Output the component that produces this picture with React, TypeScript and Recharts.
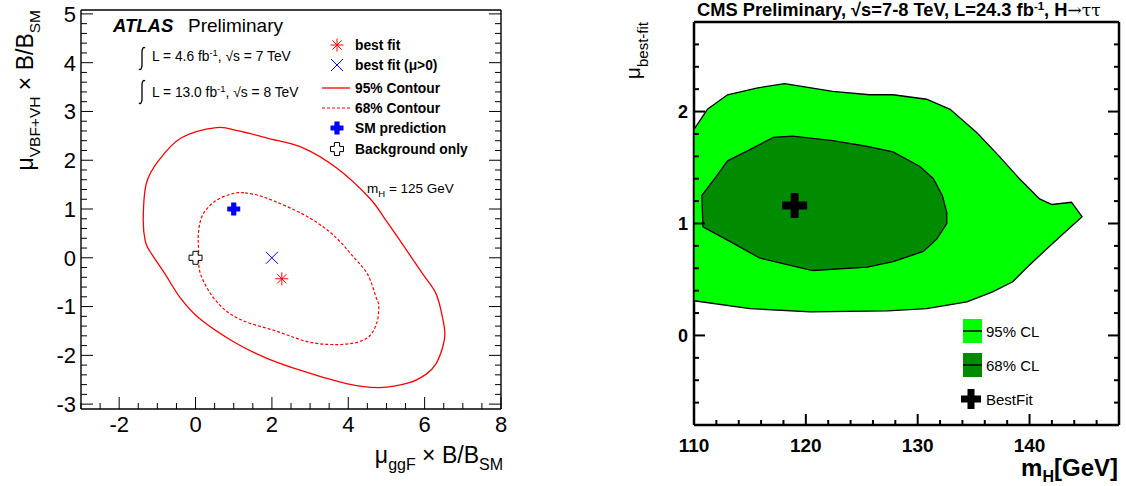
import { Scatter, ScatterChart, XAxis, YAxis } from "recharts";

// ATLAS panel: contour vertices (mu_ggF, mu_VBF+VH)
const atlasContour95: [number, number][] = [
  [0.55, 2.67], [1.13, 2.6], [1.9, 2.45], [2.8, 2.26], [3.68, 1.85], [4.55, 1.23], [5.0, 0.75],
  [5.4, 0.3], [5.95, -0.33], [6.3, -0.74], [6.47, -1.23], [6.53, -1.56], [6.47, -1.84], [6.3, -2.17],
  [6.05, -2.38], [5.6, -2.56], [4.82, -2.66], [3.95, -2.58], [2.8, -2.32], [1.84, -2.05], [0.95, -1.7],
  [0.08, -1.23], [-0.4, -0.82], [-0.8, -0.33], [-1.2, 0.14], [-1.32, 0.35], [-1.37, 0.82], [-1.29, 1.52],
  [-0.97, 1.99], [-0.37, 2.46],
];
const atlasContour68: [number, number][] = [
  [1.3, 1.33], [1.84, 1.23], [2.8, 0.9], [3.4, 0.6], [3.76, 0.35], [4.1, 0.05], [4.5, -0.33],
  [4.74, -0.84], [4.8, -1.0], [4.74, -1.35], [4.5, -1.64], [3.95, -1.77], [3.05, -1.74], [2.1, -1.5],
  [1.13, -1.25], [0.53, -0.88], [0.13, -0.33], [0.08, 0.16], [0.08, 0.55], [0.2, 0.9], [0.53, 1.17],
  [0.95, 1.31],
];
const atlasBestFit: [number, number] = [2.26, -0.43];
const atlasBestFitPositive: [number, number] = [2.0, 0.0];
const atlasSM: [number, number] = [1, 1];
const atlasBkgOnly: [number, number] = [0, 0];
const atlasXDomain: [number, number] = [-3, 8];
const atlasYDomain: [number, number] = [-3.1, 5.08];
const atlasXMajor = [-2, 0, 2, 4, 6, 8];
const atlasYMajor = [-3, -2, -1, 0, 1, 2, 3, 4, 5];

// CMS panel: contour vertices (mH, mu)
const cmsContour95: [number, number][] = [
  [110, 1.84], [111.2, 2.02], [113, 2.15], [115.6, 2.21], [118.1, 2.25], [120.6, 2.21], [122.4, 2.18],
  [125.7, 2.15], [127.8, 2.15], [130.8, 2.11], [132.9, 2.02], [135.3, 1.81], [137.3, 1.6], [139.1, 1.4],
  [140.9, 1.22], [142, 1.17], [143.75, 1.19], [144.7, 1.06], [142.7, 0.88], [141.5, 0.77], [139.7, 0.6],
  [138.5, 0.48], [136.7, 0.39], [134.4, 0.3], [130.8, 0.24], [127.3, 0.22], [120.4, 0.21], [115, 0.24],
  [110, 0.31],
];
const cmsContour68: [number, number][] = [
  [110.7, 1.25], [112, 1.42], [113, 1.56], [115, 1.66], [117.1, 1.77], [118.8, 1.78], [122.4, 1.74],
  [125.4, 1.69], [127.8, 1.64], [130.2, 1.51], [131.4, 1.4], [132.2, 1.25], [132.6, 1.1], [132.6, 1.0],
  [131.7, 0.86], [130.5, 0.75], [127.8, 0.66], [125.5, 0.61], [120.6, 0.58], [115.9, 0.69], [113.2, 0.84],
  [110.8, 0.97],
];
const cmsBestFit: [number, number] = [119, 1.16];
const cmsXDomain: [number, number] = [110, 148];
const cmsYDomain: [number, number] = [-0.8, 2.8];
const cmsXMajor = [110, 120, 130, 140];
const cmsYMajor = [0, 1, 2];

const FONT = '"Liberation Sans", Arial, Helvetica, sans-serif';
const DARK_GREEN = "#008c00";

const toPts = (arr: [number, number][]) => arr.map(([x, y]) => ({ x, y }));
const one = (p: [number, number]) => [{ x: p[0], y: p[1] }];

function withMinors(domain: [number, number], step: number) {
  const out: number[] = [];
  const start = Math.ceil(domain[0] / step - 1e-9);
  for (let i = start; i * step <= domain[1] + 1e-9; i++) out.push(Math.round(i * step * 1000) / 1000);
  return out;
}

function closedPath(pts: { x: number; y: number }[], smooth: boolean) {
  if (!pts || !pts.length) return "";
  if (!smooth) return "M" + pts.map((p) => `${p.x},${p.y}`).join("L") + "Z";
  const n = pts.length;
  let d = `M${pts[0].x},${pts[0].y}`;
  for (let i = 0; i < n; i++) {
    const p0 = pts[(i - 1 + n) % n], p1 = pts[i], p2 = pts[(i + 1) % n], p3 = pts[(i + 2) % n];
    const c1x = p1.x + (p2.x - p0.x) / 6, c1y = p1.y + (p2.y - p0.y) / 6;
    const c2x = p2.x - (p3.x - p1.x) / 6, c2y = p2.y - (p3.y - p1.y) / 6;
    d += `C${c1x},${c1y} ${c2x},${c2y} ${p2.x},${p2.y}`;
  }
  return d + "Z";
}

const polygon = (fill: string, stroke: string, width: number, smooth: boolean, dash?: string) => (p: any) => (
  <path d={closedPath(p.points, smooth)} fill={fill} stroke={stroke} strokeWidth={width} strokeDasharray={dash} />
);

const plusPath = (cx: number, cy: number, a: number, t: number) =>
  `M${cx - t},${cy - a}h${2 * t}v${a - t}h${a - t}v${2 * t}h${-(a - t)}v${a - t}h${-2 * t}v${-(a - t)}h${-(a - t)}v${-2 * t}h${a - t}Z`;

const Asterisk = ({ cx, cy, r = 6.5 }: any) => (
  <g stroke="#ff0000" strokeWidth={1}>
    {[0, 45, 90, 135].map((a) => {
      const dx = r * Math.cos((a * Math.PI) / 180), dy = r * Math.sin((a * Math.PI) / 180);
      return <line key={a} x1={cx - dx} y1={cy - dy} x2={cx + dx} y2={cy + dy} />;
    })}
  </g>
);
const Cross = ({ cx, cy, r = 6 }: any) => (
  <g stroke="#0000ff" strokeWidth={1}>
    <line x1={cx - r} y1={cy - r} x2={cx + r} y2={cy + r} />
    <line x1={cx - r} y1={cy + r} x2={cx + r} y2={cy - r} />
  </g>
);
const FilledPlus = ({ cx, cy }: any) => <path d={plusPath(cx, cy, 6.5, 2.6)} fill="#0000ff" />;
const OpenPlus = ({ cx, cy }: any) => <path d={plusPath(cx, cy, 6.5, 2.6)} fill="#fff" stroke="#000" strokeWidth={1} />;
const BigPlus = ({ cx, cy, a = 12.5, t = 4 }: any) => <path d={plusPath(cx, cy, a, t)} fill="#000" />;

type Orient = "bottom" | "left" | "top" | "right";
const makeTick = (orient: Orient, majors: number[], majorLen: number, minorLen: number, sw: number,
  label?: { size: number; weight?: string; offset: number }) => (props: any) => {
  const { x, y, payload } = props;
  const v = payload.value;
  const major = majors.some((m) => Math.abs(m - v) < 1e-6);
  const len = major ? majorLen : minorLen;
  let line = null;
  let text = null;
  const tStyle = { fontFamily: FONT, fontSize: label?.size, fontWeight: label?.weight ?? "normal", fill: "#000" };
  if (orient === "bottom") {
    line = <line x1={x} y1={y} x2={x} y2={y - len} />;
    if (label && major) text = <text x={x} y={y + label.offset} textAnchor="middle" style={tStyle}>{String(v)}</text>;
  } else if (orient === "top") {
    line = <line x1={x} y1={y} x2={x} y2={y + len} />;
  } else if (orient === "left") {
    line = <line x1={x} y1={y} x2={x + len} y2={y} />;
    if (label && major) text = <text x={x - label.offset} y={y + label.size * 0.36} textAnchor="end" style={tStyle}>{String(v)}</text>;
  } else {
    line = <line x1={x} y1={y} x2={x - len} y2={y} />;
  }
  return <g stroke="#000" strokeWidth={sw}>{line}<g stroke="none">{text}</g></g>;
};

function AtlasPanel() {
  const xt = withMinors(atlasXDomain, 0.5);
  const yt = withMinors(atlasYDomain, 0.2);
  const axisLine = { stroke: "#000", strokeWidth: 1.4 };
  return (
    <ScatterChart width={520} height={486} margin={{ top: 0, right: 0, bottom: 0, left: 0 }}>
      <XAxis xAxisId={0} dataKey="x" type="number" domain={atlasXDomain} ticks={xt} interval={0} height={77}
        allowDataOverflow tickSize={0} tickMargin={0} tickLine={false} axisLine={axisLine}
        tick={makeTick("bottom", atlasXMajor, 12, 6, 1, { size: 22, offset: 23 })} />
      <XAxis xAxisId="top" orientation="top" type="number" domain={atlasXDomain} ticks={xt} interval={0} height={10}
        allowDataOverflow tickSize={0} tickMargin={0} tickLine={false} axisLine={axisLine}
        tick={makeTick("top", atlasXMajor, 12, 6, 1)} />
      <YAxis yAxisId={0} dataKey="y" type="number" domain={atlasYDomain} ticks={yt} interval={0} width={81}
        allowDataOverflow tickSize={0} tickMargin={0} tickLine={false} axisLine={axisLine}
        tick={makeTick("left", atlasYMajor, 12, 6, 1, { size: 22, offset: 5 })} />
      <YAxis yAxisId="right" orientation="right" type="number" domain={atlasYDomain} ticks={yt} interval={0} width={19}
        allowDataOverflow tickSize={0} tickMargin={0} tickLine={false} axisLine={axisLine}
        tick={makeTick("right", atlasYMajor, 12, 6, 1)} />
      <Scatter data={toPts(atlasContour95)} isAnimationActive={false} lineType="joint"
        line={polygon("none", "#ff0000", 1.3, true)} shape={() => <g />} />
      <Scatter data={toPts(atlasContour68)} isAnimationActive={false} lineType="joint"
        line={polygon("none", "#ff0000", 1.2, true, "3 2")} shape={() => <g />} />
      <Scatter data={one(atlasSM)} isAnimationActive={false} shape={FilledPlus} />
      <Scatter data={one(atlasBkgOnly)} isAnimationActive={false} shape={OpenPlus} />
      <Scatter data={one(atlasBestFitPositive)} isAnimationActive={false} shape={Cross} />
      <Scatter data={one(atlasBestFit)} isAnimationActive={false} shape={Asterisk} />
    </ScatterChart>
  );
}

function CmsPanel() {
  const xt = withMinors(cmsXDomain, 2);
  const yt = withMinors(cmsYDomain, 0.2);
  const axisLine = { stroke: "#000", strokeWidth: 2.5 };
  return (
    <ScatterChart width={526} height={486} margin={{ top: 0, right: 0, bottom: 0, left: 0 }}>
      <Scatter data={toPts(cmsContour95)} isAnimationActive={false} lineType="joint"
        line={polygon("#00ff00", "#000", 1.3, false)} shape={() => <g />} />
      <Scatter data={toPts(cmsContour68)} isAnimationActive={false} lineType="joint"
        line={polygon(DARK_GREEN, "#000", 1.3, false)} shape={() => <g />} />
      <Scatter data={one(cmsBestFit)} isAnimationActive={false} shape={BigPlus} />
      <XAxis xAxisId={0} dataKey="x" type="number" domain={cmsXDomain} ticks={xt} interval={0} height={61}
        allowDataOverflow tickSize={0} tickMargin={0} tickLine={false} axisLine={axisLine}
        tick={makeTick("bottom", cmsXMajor, 11, 5, 2, { size: 19, weight: "bold", offset: 27 })} />
      <XAxis xAxisId="top" orientation="top" type="number" domain={cmsXDomain} ticks={xt} interval={0} height={22}
        allowDataOverflow tickSize={0} tickMargin={0} tickLine={false} axisLine={axisLine}
        tick={makeTick("top", cmsXMajor, 11, 5, 2)} />
      <YAxis yAxisId={0} dataKey="y" type="number" domain={cmsYDomain} ticks={yt} interval={0} width={94}
        allowDataOverflow tickSize={0} tickMargin={0} tickLine={false} axisLine={axisLine}
        tick={makeTick("left", cmsYMajor, 11, 5, 2, { size: 18, weight: "bold", offset: 6 })} />
      <YAxis yAxisId="right" orientation="right" type="number" domain={cmsYDomain} ticks={yt} interval={0} width={7}
        allowDataOverflow tickSize={0} tickMargin={0} tickLine={false} axisLine={axisLine}
        tick={makeTick("right", cmsYMajor, 11, 5, 2)} />
    </ScatterChart>
  );
}

// integral sign, drawn tall and thin like the ROOT one
const Integral = ({ x, top, bottom }: { x: number; top: number; bottom: number }) => (
  <path d={`M${x - 3},${bottom - 1} Q${x - 1},${bottom + 1} ${x},${bottom - 4} L${x},${top + 4} Q${x + 1},${top - 1} ${x + 3},${top + 1}`}
    fill="none" stroke="#000" strokeWidth={1.3} />
);

function Overlay() {
  const bold = { fontFamily: FONT, fontWeight: "bold" as const };
  const norm = { fontFamily: FONT };
  const legendRows = [
    { y: 50, label: "best fit" },
    { y: 70, label: "best fit (\u03bc>0)" },
    { y: 93, label: "95% Contour" },
    { y: 113, label: "68% Contour" },
    { y: 133, label: "SM prediction" },
    { y: 154, label: "Background only" },
  ];
  return (
    <svg width={1126} height={486} style={{ position: "absolute", left: 0, top: 0, pointerEvents: "none" }}>
      {/* ATLAS labels */}
      <text transform="translate(33,10) rotate(-90)" textAnchor="end" style={{ ...norm, fontSize: 23 }}>
        {"\u03bc"}<tspan fontSize={15.5} dy={7}>VBF+VH</tspan><tspan dy={-7}>{" \u00d7 B/B"}</tspan>
        <tspan fontSize={15.5} dy={7}>SM</tspan>
      </text>
      <text x={503} y={463} textAnchor="end" style={{ ...norm, fontSize: 23 }}>
        {"\u03bc"}<tspan fontSize={16} dy={7}>ggF</tspan><tspan dy={-7}>{" \u00d7 B/B"}</tspan>
        <tspan fontSize={16} dy={7}>SM</tspan>
      </text>
      <text x={113} y={32} style={{ ...bold, fontStyle: "italic", fontSize: 18.5 }}>ATLAS</text>
      <text x={188} y={32} style={{ ...norm, fontSize: 19 }}>Preliminary</text>
      <Integral x={142} top={47} bottom={70} />
      <text x={152} y={61} style={{ ...norm, fontSize: 13.8 }}>
        {"L = 4.6 fb"}<tspan fontSize={9.5} dy={-5}>-1</tspan><tspan dy={5}>{", \u221as = 7 TeV"}</tspan>
      </text>
      <Integral x={142} top={80} bottom={104} />
      <text x={152} y={97} style={{ ...norm, fontSize: 13.8 }}>
        {"L = 13.0 fb"}<tspan fontSize={9.5} dy={-5}>-1</tspan><tspan dy={5}>{", \u221as = 8 TeV"}</tspan>
      </text>
      {legendRows.map((r) => (
        <text key={r.label} x={355} y={r.y} style={{ ...bold, fontSize: 13.8 }}>{r.label}</text>
      ))}
      <Asterisk cx={337} cy={45} />
      <Cross cx={337} cy={65} />
      <line x1={322} y1={88} x2={350} y2={88} stroke="#ff0000" strokeWidth={1.3} />
      <line x1={322} y1={108} x2={350} y2={108} stroke="#ff0000" strokeWidth={1.2} strokeDasharray="3 2" />
      <FilledPlus cx={337} cy={128} />
      <OpenPlus cx={337} cy={149} />
      <text x={367} y={193} style={{ ...norm, fontSize: 13.5 }}>
        m<tspan fontSize={9.5} dy={4}>H</tspan><tspan dy={-4}>{" = 125 GeV"}</tspan>
      </text>

      {/* CMS labels */}
      <text x={697} y={16} style={{ ...bold, fontSize: 18.3 }}>
        {"CMS Preliminary, \u221as=7-8 TeV, L=24.3 fb"}<tspan fontSize={11.5} dy={-6}>-1</tspan>
        <tspan dy={6}>{", H"}</tspan>
        <tspan fontWeight="normal" fontFamily='"DejaVu Serif", serif' fontSize={17}>{"\u2192\u03c4\u03c4"}</tspan>
      </text>
      <text transform="translate(640,22) rotate(-90)" textAnchor="end" style={{ ...norm, fontSize: 21 }}>
        {"\u03bc"}<tspan fontSize={15} dy={8}>best-fit</tspan>
      </text>
      <text x={1118} y={476} textAnchor="end" style={{ ...bold, fontSize: 24 }}>
        m<tspan fontSize={16} dy={6}>H</tspan><tspan dy={-6}>[GeV]</tspan>
      </text>
      <rect x={963} y={319} width={19} height={24} fill="#00ff00" />
      <line x1={963} y1={331} x2={982} y2={331} stroke="#000" strokeWidth={1.5} />
      <rect x={963} y={353} width={19} height={24} fill={DARK_GREEN} />
      <line x1={963} y1={365} x2={982} y2={365} stroke="#000" strokeWidth={1.5} />
      <BigPlus cx={971} cy={399} a={10} t={3.5} />
      <text x={986} y={337} style={{ ...norm, fontSize: 15 }}>95% CL</text>
      <text x={986} y={371} style={{ ...norm, fontSize: 15 }}>68% CL</text>
      <text x={986} y={405} style={{ ...norm, fontSize: 15 }}>BestFit</text>
    </svg>
  );
}

export default function App() {
  return (
    <div style={{ position: "absolute", left: 0, top: 0, width: 1126, height: 486, background: "#fff" }}>
      <div style={{ position: "absolute", left: 0, top: 0 }}>
        <AtlasPanel />
      </div>
      <div style={{ position: "absolute", left: 600, top: 0 }}>
        <CmsPanel />
      </div>
      <Overlay />
    </div>
  );
}
